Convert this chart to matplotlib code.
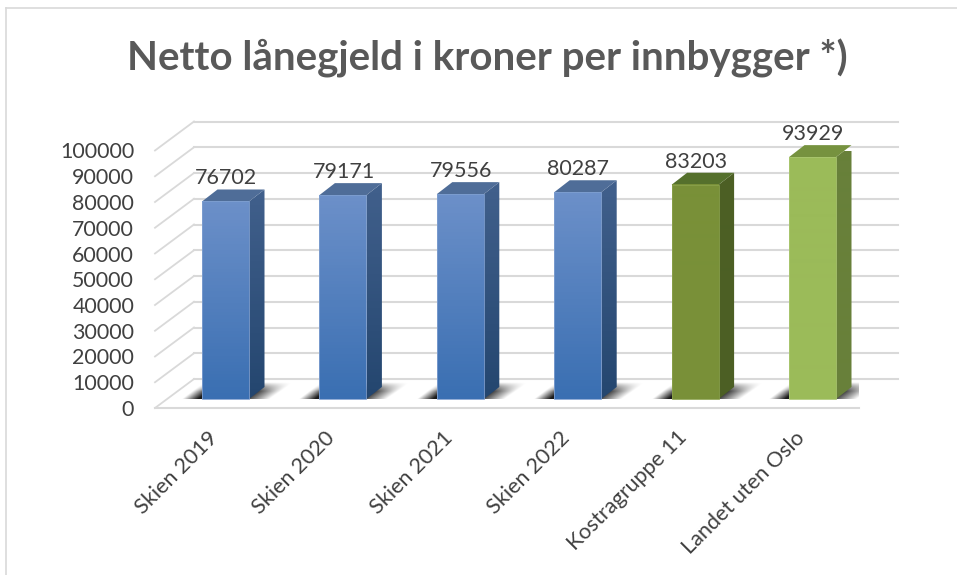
import numpy as np
import matplotlib
matplotlib.use("Agg")
from matplotlib import pyplot as plt
from matplotlib.colors import to_rgb
from matplotlib.lines import Line2D
from matplotlib.patches import Polygon
from matplotlib.transforms import ScaledTranslation

plt.rcParams['font.family'] = ['Lato', 'DejaVu Sans']

# data
kategorier = ["Skien 2019", "Skien 2020", "Skien 2021", "Skien 2022", "Kostragruppe 11", "Landet uten Oslo"]
verdier = [76702, 79171, 79556, 80287, 83203, 93929]
yticks = [0, 10000, 20000, 30000, 40000, 50000, 60000, 70000, 80000, 90000, 100000]

W, H = 957, 575
fig = plt.figure(figsize=(W / 100, H / 100), dpi=100)
fig.patch.set_facecolor("white")

# axes = front plane of the 3D box, in pixels from the reference
left, right, y0, y100 = 155, 859, 408, 150.5
ax = fig.add_axes([left / W, 1 - y0 / H, (right - left) / W, (y0 - y100) / H])
px_x = 117.4                      # pixels per category
px_y = (y0 - y100) / 100000       # pixels per krone
ax.set_xlim((left - 225.5) / px_x, (right - 225.5) / px_x)
ax.set_ylim(0, 100000)


def dx(p):
    return p / px_x


def dy(p):
    return p / px_y


# colours per bar: front top, front bottom, side top, side bottom, roof
farger = [("#6c90c9", "#3a6fb2", "#41608c", "#24466f", "#4f6d98")] * 4 + [
    ("#799038", "#799038", "#4c5f24", "#4c5f24", "#55702c"),
    ("#9bbb59", "#9bbb59", "#68803a", "#68803a", "#76923f"),
]
kanter = ["#7f9fd0"] * 4 + ["#8aa14c", "#aac670"]


def gradient(c1, c2):
    a, b = np.array(to_rgb(c1)), np.array(to_rgb(c2))
    t = np.linspace(0, 1, 64)[:, None]
    return (a * (1 - t) + b * t)[:, None, :]


# blurred floor shadow, pixels relative to the bar's front left corner
sk_px, sk_t = np.meshgrid(np.linspace(-20, 92, 224), np.linspace(1, 0, 34))
sk_v = sk_px - (-20 + 22 * sk_t)
sk_h = (68 + 24 * sk_t) - sk_px
skygge = np.zeros(sk_px.shape + (4,))
skygge[:, :, 3] = 0.9 * np.clip(sk_v / 16, 0, 1) * np.clip(sk_h / 27, 0, 1) * np.clip((1 - sk_t) / 0.55, 0, 1)

# walls and gridlines
grid = "#d9d9d9"
wall_x, wall_y = dx(39), dy(29)
xa, xb = ax.get_xlim()
for v in yticks:
    ax.plot([xa, xa + wall_x], [v, v + wall_y], color=grid, lw=1.3, clip_on=False, zorder=1)
    ax.plot([xa + wall_x, xb + wall_x], [v + wall_y, v + wall_y], color=grid, lw=1.5, clip_on=False, zorder=1)
ax.plot([xa, xb], [0, 0], color=grid, lw=1.5, clip_on=False, zorder=1)

# bars
x = np.arange(len(verdier))
bar_w = 47 / px_x
bunn = dy(9)
side_x, side_y = dx(15.5), dy(12)
ax.bar(x, verdier, width=bar_w, bottom=bunn, color="none", linewidth=0, zorder=4)

for i, v in enumerate(verdier):
    x0, x1 = i - bar_w / 2, i + bar_w / 2
    topp = bunn + v
    c = farger[i]

    # soft shadow on the floor
    ax.imshow(skygge, extent=[x0 + dx(-20), x0 + dx(92), bunn, bunn + dy(17)], origin="upper",
              aspect="auto", zorder=2, interpolation="bilinear")

    # side
    side = Polygon([(x1, bunn), (x1 + side_x, bunn + side_y), (x1 + side_x, topp + side_y), (x1, topp)],
                   fc="none", ec="none")
    ax.add_patch(side)
    im = ax.imshow(gradient(c[2], c[3]), extent=[x1, x1 + side_x, bunn, topp + side_y], origin="upper", aspect="auto", zorder=3)
    im.set_clip_path(side)

    # roof
    ax.add_patch(Polygon([(x0, topp), (x1, topp), (x1 + side_x, topp + side_y), (x0 + side_x, topp + side_y)],
                         fc=c[4], ec="none", zorder=3, clip_on=False))

    # front
    ax.imshow(gradient(c[0], c[1]), extent=[x0, x1, bunn, topp], origin="upper", aspect="auto", zorder=4)
    ax.add_patch(Polygon([(x0, bunn), (x1, bunn), (x1, topp), (x0, topp)], fc="none", ec=kanter[i], lw=0.6, zorder=5))

    # data label
    ax.annotate(str(v), (i, topp + side_y), xytext=(0.5, 8), textcoords="offset points", ha="center", va="center",
                fontsize=15.5, color="#404040", annotation_clip=False, zorder=6)

ax.set_xlim((left - 225.5) / px_x, (right - 225.5) / px_x)
ax.set_ylim(0, 100000)

# axes text
for s in ax.spines.values():
    s.set_visible(False)
ax.patch.set_alpha(0)
ax.set_yticks(yticks)
ax.set_yticklabels([str(v) for v in yticks], fontsize=15.4, color="#404040")
ax.tick_params(axis="y", length=0, pad=15)
ax.set_xticks(x)
ax.set_xticklabels(kategorier, rotation=45, ha="right", va="top", rotation_mode="anchor", fontsize=15.6, color="#404040")
ax.tick_params(axis="x", length=0, pad=14)
for lab in ax.get_xticklabels():
    lab.set_transform(lab.get_transform() + ScaledTranslation(-18 / 100, 0, fig.dpi_scale_trans))

# title and frame
fig.text(487 / W, 1 - 58 / H, "Netto lånegjeld i kroner per innbygger *)", ha="center", va="center",
         fontsize=29, fontweight="bold", color="#595959")
fig.add_artist(Line2D([6 / W, 6 / W], [0, 1 - 8 / H], color=grid, lw=1.2))
fig.add_artist(Line2D([6 / W, 1], [1 - 8 / H, 1 - 8 / H], color=grid, lw=1.2))

fig.savefig("out.png", dpi=100)
